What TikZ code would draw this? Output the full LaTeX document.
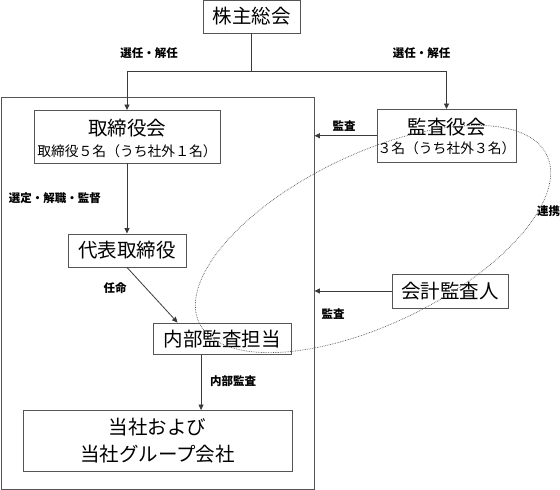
\documentclass[tikz,border=0pt]{standalone}
\usepackage{fontspec}
\newfontfamily\jp{Noto Sans CJK JP}
\usetikzlibrary{arrows.meta}
\definecolor{linec}{HTML}{555555}
\definecolor{arrc}{HTML}{3A3A3A}
\definecolor{dotc}{HTML}{555555}
\begin{document}
\begin{tikzpicture}[x=1pt,y=-1pt,
  box/.style={draw=linec, line width=0.9pt, rectangle, inner sep=0pt, align=center},
  bigtxt/.style={font=\jp\fontsize{19.5}{27}\selectfont},
  subtxt/.style={font=\jp\fontsize{13.8}{16}\selectfont, inner sep=0pt},
  lbl/.style={font=\jp\bfseries\fontsize{11.5}{13}\selectfont, inner sep=0pt},
  conn/.style={draw=arrc, line width=0.8pt},
  arr/.style={conn, -{Triangle[length=5.5pt,width=5pt]}},
  ell/.style={draw=dotc, line width=0.7pt, dash pattern=on 0.7pt off 1pt}]
\useasboundingbox (0,0) rectangle (560,490);
% outer frame
\node[box, minimum width=313pt, minimum height=392pt] (outer) at (157.5,293) {};
% boxes
\node[box, bigtxt, minimum width=97pt, minimum height=33pt] (kabu) at (251.5,16.5) {株主総会};
\node[box, minimum width=186pt, minimum height=52.5pt] (tori) at (127,136.75) {};
\node[bigtxt, inner sep=0pt] (torit) at (127,128.5) {取締役会};
\node[subtxt] (toris) at (127,151.5) {取締役５名（うち社外１名）};
\node[box, minimum width=139pt, minimum height=52.5pt] (kansa) at (446.5,135.75) {};
\node[bigtxt, inner sep=0pt] (kansat) at (446.5,127.5) {監査役会};
\node[subtxt] (kansas) at (446.5,148) {３名（うち社外３名）};
\node[box, bigtxt, minimum width=118pt, minimum height=33pt] (daihyo) at (127,250.5) {代表取締役};
\node[box, bigtxt, minimum width=138pt, minimum height=31.5pt] (naibu) at (222,338.75) {内部監査担当};
\node[box, bigtxt, minimum width=269pt, minimum height=60.5pt] (tosha) at (157.5,440.75) {当社および\\当社グループ会社};
\node[box, bigtxt, minimum width=116pt, minimum height=34pt] (kaikei) at (450,291) {会計監査人};
% connectors
\coordinate (j) at (251.5,71.7);
\draw[conn] (kabu.south) -- (j);
\draw[arr] (j) -| (tori.north);
\draw[arr] (j) -| (kansa.north);
\draw[arr] (kansa.west) -- (kansa.west -| outer.east);
\draw[arr] (kaikei.west) -- (kaikei.west -| outer.east);
\draw[arr] (tori.south) -- (daihyo.north);
\draw[arr] (daihyo.south) -- ([xshift=25pt]naibu.north west);
\draw[arr] ([xshift=48.5pt]naibu.south west) coordinate (p) -- (p |- tosha.north);
% labels
\node[lbl] (l1) at (149,53) {選任・解任};
\node[lbl] (l2) at (421.7,53) {選任・解任};
\node[lbl] (l3) at (344,126) {監査};
\node[lbl] (l4) at (55,198) {選定・解職・監督};
\node[lbl] (l5) at (115,287.7) {任命};
\node[lbl] (l6) at (333,314) {監査};
\node[lbl] (l7) at (233,381) {内部監査};
\node[lbl] (l8) at (548.5,211) {連携};
% dotted ellipse
\draw[ell, rotate around={25.8:(373,239)}] (373,239) ellipse (193pt and 85pt);
\end{tikzpicture}
\end{document}
